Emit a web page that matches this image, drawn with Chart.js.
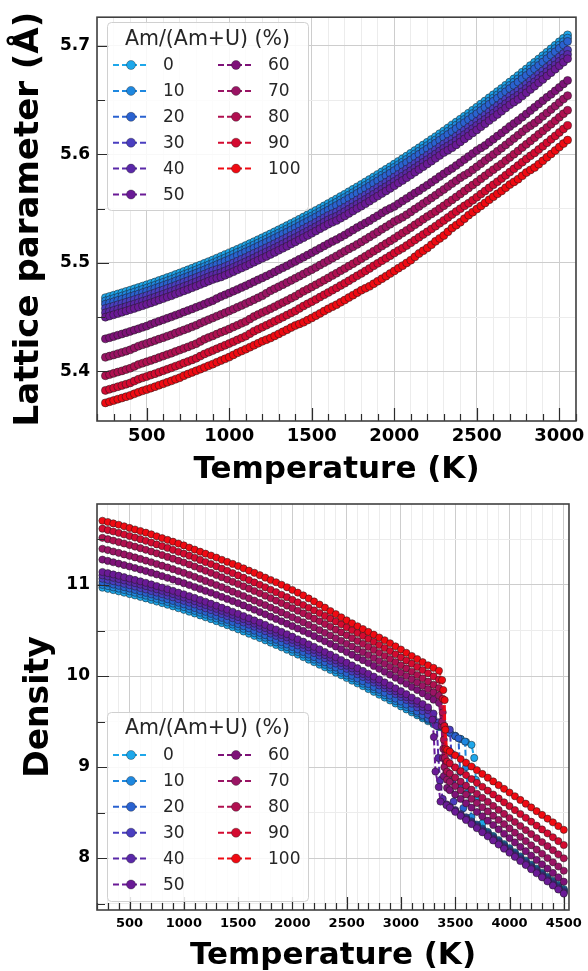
<!DOCTYPE html>
<html>
<head>
<meta charset="utf-8">
<script src="https://cdn.jsdelivr.net/npm/chart.js@4.4.1/dist/chart.umd.min.js"></script>
<style>
  html, body { margin: 0; padding: 0; background: #fff; }
  #wrap { position: relative; width: 588px; height: 971px; }
  canvas { position: absolute; left: 0; }
</style>
</head>
<body>
<div id="wrap">
  <canvas id="lattice" width="588" height="485" style="top:0"></canvas>
  <canvas id="density" width="588" height="486" style="top:485px"></canvas>
</div>
<script>
// Am/(Am+U) content of each series (%)
const compositions = [0, 10, 20, 30, 40, 50, 60, 70, 80, 90, 100];
const seriesColors = ['#1ea7ea', '#1e88e0', '#2a62d0', '#4a3ec0', '#5a28a8', '#6a1a96',
                      '#7e1278', '#9a1464', '#b01050', '#d40a30', '#f00a12'];
const legendTitle = 'Am/(Am+U) (%)';

// tick positions (every 100 K; labels on the 500 K ones)
const latticeXTicks = [200, 300, 400, 500, 600, 700, 800, 900, 1000, 1100, 1200, 1300, 1400, 1500, 1600, 1700, 1800,
                       1900, 2000, 2100, 2200, 2300, 2400, 2500, 2600, 2700, 2800, 2900, 3000, 3100];
const latticeYTicks = [5.4, 5.45, 5.5, 5.55, 5.6, 5.65, 5.7];
const densityXTicks = [200, 300, 400, 500, 600, 700, 800, 900, 1000, 1100, 1200, 1300, 1400, 1500, 1600, 1700, 1800,
                       1900, 2000, 2100, 2200, 2300, 2400, 2500, 2600, 2700, 2800, 2900, 3000, 3100, 3200, 3300, 3400,
                       3500, 3600, 3700, 3800, 3900, 4000, 4100, 4200, 4300, 4400, 4500];
const densityYTicks = [7.5, 8, 8.5, 9, 9.5, 10, 10.5, 11, 11.5];

// ---- lattice parameter (Angstrom) vs temperature (K), every 25 K ----
const latticeTemps = [250,275,300,325,350,375,400,425,450,475,500,525,550,575,600,625,650,675,700,725,750,775,800,825,850,875,900,925,950,975,
  1000,1025,1050,1075,1100,1125,1150,1175,1200,1225,1250,1275,1300,1325,1350,1375,1400,1425,1450,1475,1500,1525,1550,1575,1600,1625,1650,1675,1700,1725,
  1750,1775,1800,1825,1850,1875,1900,1925,1950,1975,2000,2025,2050,2075,2100,2125,2150,2175,2200,2225,2250,2275,2300,2325,2350,2375,2400,2425,2450,2475,
  2500,2525,2550,2575,2600,2625,2650,2675,2700,2725,2750,2775,2800,2825,2850,2875,2900,2925,2950,2975,3000,3025,3050];
const lattice0 = [5.4680,5.4691,5.4702,5.4714,5.4725,5.4737,5.4749,5.4761,5.4773,5.4786,5.4798,5.4811,5.4824,5.4838,5.4851,5.4865,5.4878,5.4893,5.4907,5.4922,
  5.4936,5.4951,5.4966,5.4981,5.4996,5.5012,5.5027,5.5044,5.5060,5.5076,5.5092,5.5109,5.5126,5.5143,5.5160,5.5178,5.5196,5.5214,5.5232,5.5250,
  5.5268,5.5287,5.5306,5.5325,5.5344,5.5364,5.5383,5.5403,5.5423,5.5443,5.5463,5.5484,5.5505,5.5526,5.5547,5.5569,5.5590,5.5612,5.5633,5.5656,
  5.5678,5.5701,5.5723,5.5746,5.5769,5.5793,5.5816,5.5840,5.5863,5.5887,5.5911,5.5936,5.5960,5.5985,5.6010,5.6036,5.6061,5.6087,5.6112,5.6138,
  5.6164,5.6191,5.6217,5.6244,5.6271,5.6298,5.6325,5.6353,5.6380,5.6408,5.6436,5.6465,5.6493,5.6522,5.6550,5.6579,5.6608,5.6638,5.6667,5.6697,
  5.6727,5.6758,5.6788,5.6819,5.6849,5.6880,5.6911,5.6943,5.6974,5.7006,5.7038,5.7070,5.7102];
const lattice10 = [5.4650,5.4661,5.4672,5.4684,5.4695,5.4707,5.4719,5.4731,5.4743,5.4756,5.4768,5.4781,5.4794,5.4808,5.4821,5.4835,5.4848,5.4863,5.4877,5.4892,
  5.4906,5.4921,5.4936,5.4951,5.4966,5.4982,5.4997,5.5014,5.5030,5.5046,5.5062,5.5079,5.5096,5.5113,5.5130,5.5148,5.5166,5.5184,5.5202,5.5220,
  5.5238,5.5257,5.5276,5.5295,5.5314,5.5334,5.5353,5.5373,5.5393,5.5413,5.5433,5.5454,5.5475,5.5496,5.5517,5.5539,5.5560,5.5582,5.5603,5.5626,
  5.5648,5.5671,5.5693,5.5716,5.5739,5.5763,5.5786,5.5810,5.5833,5.5857,5.5881,5.5906,5.5930,5.5955,5.5980,5.6006,5.6031,5.6057,5.6082,5.6108,
  5.6134,5.6161,5.6187,5.6214,5.6241,5.6268,5.6295,5.6323,5.6350,5.6378,5.6406,5.6435,5.6463,5.6492,5.6520,5.6549,5.6578,5.6608,5.6637,5.6667,
  5.6697,5.6728,5.6758,5.6789,5.6819,5.6850,5.6881,5.6913,5.6944,5.6976,5.7008,5.7040,5.7072];
const lattice20 = [5.4620,5.4631,5.4642,5.4654,5.4665,5.4677,5.4689,5.4701,5.4713,5.4726,5.4738,5.4751,5.4764,5.4778,5.4791,5.4805,5.4818,5.4833,5.4847,5.4862,
  5.4876,5.4891,5.4906,5.4921,5.4936,5.4952,5.4967,5.4984,5.5000,5.5016,5.5032,5.5049,5.5066,5.5083,5.5100,5.5118,5.5136,5.5154,5.5172,5.5190,
  5.5208,5.5227,5.5246,5.5265,5.5284,5.5304,5.5323,5.5343,5.5363,5.5383,5.5403,5.5424,5.5445,5.5466,5.5487,5.5509,5.5530,5.5552,5.5573,5.5596,
  5.5618,5.5641,5.5663,5.5686,5.5709,5.5733,5.5756,5.5780,5.5803,5.5827,5.5851,5.5876,5.5900,5.5925,5.5950,5.5976,5.6001,5.6027,5.6052,5.6078,
  5.6104,5.6131,5.6157,5.6184,5.6211,5.6238,5.6265,5.6293,5.6320,5.6348,5.6376,5.6405,5.6433,5.6462,5.6490,5.6519,5.6548,5.6578,5.6607,5.6637,
  5.6667,5.6698,5.6728,5.6759,5.6789,5.6820,5.6851,5.6883,5.6914,5.6946,5.6978,5.7010,5.7042];
const lattice30 = [5.4580,5.4591,5.4602,5.4614,5.4625,5.4637,5.4649,5.4661,5.4673,5.4686,5.4698,5.4711,5.4724,5.4738,5.4751,5.4765,5.4778,5.4793,5.4807,5.4822,
  5.4836,5.4851,5.4866,5.4881,5.4896,5.4912,5.4927,5.4939,5.4950,5.4966,5.4982,5.4999,5.5016,5.5033,5.5050,5.5068,5.5086,5.5104,5.5122,5.5140,
  5.5158,5.5177,5.5196,5.5215,5.5234,5.5254,5.5273,5.5293,5.5313,5.5333,5.5353,5.5374,5.5395,5.5416,5.5437,5.5454,5.5470,5.5492,5.5513,5.5536,
  5.5558,5.5581,5.5603,5.5626,5.5649,5.5673,5.5696,5.5720,5.5743,5.5767,5.5791,5.5816,5.5840,5.5865,5.5890,5.5916,5.5941,5.5967,5.5992,5.6018,
  5.6044,5.6071,5.6097,5.6119,5.6141,5.6168,5.6195,5.6223,5.6250,5.6278,5.6306,5.6335,5.6363,5.6392,5.6420,5.6449,5.6478,5.6508,5.6537,5.6562,
  5.6587,5.6618,5.6648,5.6679,5.6709,5.6740,5.6771,5.6803,5.6834,5.6866,5.6898,5.6930,5.6962];
const lattice40 = [5.4540,5.4551,5.4562,5.4574,5.4585,5.4597,5.4609,5.4621,5.4633,5.4646,5.4658,5.4671,5.4684,5.4698,5.4711,5.4725,5.4738,5.4753,5.4767,5.4782,
  5.4796,5.4811,5.4826,5.4841,5.4856,5.4872,5.4887,5.4899,5.4910,5.4926,5.4942,5.4959,5.4976,5.4993,5.5010,5.5028,5.5046,5.5064,5.5082,5.5100,
  5.5118,5.5137,5.5156,5.5175,5.5194,5.5214,5.5233,5.5253,5.5273,5.5293,5.5313,5.5334,5.5355,5.5376,5.5397,5.5414,5.5430,5.5452,5.5473,5.5496,
  5.5518,5.5541,5.5563,5.5586,5.5609,5.5633,5.5656,5.5680,5.5703,5.5727,5.5751,5.5776,5.5800,5.5825,5.5850,5.5876,5.5901,5.5927,5.5952,5.5978,
  5.6004,5.6031,5.6057,5.6079,5.6101,5.6128,5.6155,5.6183,5.6210,5.6238,5.6266,5.6295,5.6323,5.6352,5.6380,5.6409,5.6438,5.6468,5.6497,5.6522,
  5.6547,5.6578,5.6608,5.6639,5.6669,5.6700,5.6731,5.6763,5.6794,5.6826,5.6858,5.6890,5.6922];
const lattice50 = [5.4500,5.4511,5.4522,5.4534,5.4545,5.4557,5.4569,5.4581,5.4593,5.4606,5.4618,5.4631,5.4644,5.4658,5.4671,5.4685,5.4698,5.4713,5.4727,5.4742,
  5.4756,5.4771,5.4786,5.4801,5.4816,5.4832,5.4847,5.4859,5.4870,5.4886,5.4902,5.4919,5.4936,5.4953,5.4970,5.4988,5.5006,5.5024,5.5042,5.5060,
  5.5078,5.5097,5.5116,5.5135,5.5154,5.5174,5.5193,5.5213,5.5233,5.5253,5.5273,5.5294,5.5315,5.5336,5.5357,5.5374,5.5390,5.5412,5.5433,5.5456,
  5.5478,5.5501,5.5523,5.5546,5.5569,5.5593,5.5616,5.5640,5.5663,5.5687,5.5711,5.5736,5.5760,5.5785,5.5810,5.5836,5.5861,5.5887,5.5912,5.5938,
  5.5964,5.5991,5.6017,5.6039,5.6061,5.6088,5.6115,5.6143,5.6170,5.6198,5.6226,5.6255,5.6283,5.6312,5.6340,5.6369,5.6398,5.6428,5.6457,5.6482,
  5.6507,5.6538,5.6568,5.6599,5.6629,5.6660,5.6691,5.6723,5.6754,5.6786,5.6818,5.6850,5.6882];
const lattice60 = [5.4300,5.4311,5.4322,5.4334,5.4345,5.4357,5.4369,5.4381,5.4393,5.4406,5.4418,5.4434,5.4449,5.4463,5.4476,5.4490,5.4503,5.4518,5.4532,5.4547,
  5.4561,5.4576,5.4591,5.4606,5.4621,5.4637,5.4652,5.4672,5.4690,5.4706,5.4722,5.4739,5.4756,5.4773,5.4790,5.4808,5.4826,5.4844,5.4862,5.4880,
  5.4898,5.4917,5.4936,5.4955,5.4974,5.4994,5.5013,5.5033,5.5053,5.5073,5.5093,5.5114,5.5135,5.5156,5.5177,5.5197,5.5215,5.5237,5.5258,5.5281,
  5.5303,5.5326,5.5348,5.5369,5.5389,5.5413,5.5436,5.5460,5.5483,5.5502,5.5521,5.5546,5.5570,5.5595,5.5620,5.5644,5.5666,5.5692,5.5717,5.5743,
  5.5769,5.5796,5.5822,5.5847,5.5871,5.5898,5.5925,5.5953,5.5980,5.6008,5.6036,5.6060,5.6083,5.6112,5.6140,5.6169,5.6198,5.6228,5.6257,5.6285,
  5.6312,5.6343,5.6373,5.6404,5.6434,5.6465,5.6496,5.6526,5.6554,5.6586,5.6618,5.6650,5.6682];
const lattice70 = [5.4130,5.4141,5.4152,5.4164,5.4175,5.4187,5.4199,5.4216,5.4233,5.4246,5.4258,5.4271,5.4284,5.4298,5.4311,5.4325,5.4338,5.4353,5.4367,5.4382,
  5.4396,5.4411,5.4426,5.4444,5.4461,5.4477,5.4492,5.4509,5.4525,5.4541,5.4557,5.4574,5.4591,5.4608,5.4625,5.4643,5.4661,5.4679,5.4697,5.4720,
  5.4743,5.4762,5.4781,5.4800,5.4819,5.4839,5.4858,5.4878,5.4898,5.4918,5.4938,5.4959,5.4980,5.5001,5.5022,5.5044,5.5065,5.5087,5.5108,5.5129,
  5.5148,5.5171,5.5193,5.5216,5.5239,5.5263,5.5286,5.5310,5.5333,5.5357,5.5381,5.5401,5.5420,5.5445,5.5470,5.5496,5.5521,5.5547,5.5572,5.5598,
  5.5624,5.5651,5.5677,5.5704,5.5731,5.5758,5.5785,5.5808,5.5830,5.5858,5.5886,5.5915,5.5943,5.5972,5.6000,5.6029,5.6058,5.6088,5.6117,5.6147,
  5.6177,5.6208,5.6238,5.6264,5.6289,5.6320,5.6351,5.6383,5.6414,5.6446,5.6478,5.6510,5.6542];
const lattice80 = [5.3960,5.3971,5.3982,5.3994,5.4005,5.4017,5.4029,5.4046,5.4063,5.4076,5.4088,5.4101,5.4114,5.4128,5.4141,5.4155,5.4168,5.4183,5.4197,5.4212,
  5.4226,5.4241,5.4256,5.4276,5.4296,5.4312,5.4327,5.4344,5.4360,5.4376,5.4392,5.4409,5.4426,5.4443,5.4460,5.4483,5.4506,5.4524,5.4542,5.4560,
  5.4578,5.4597,5.4616,5.4635,5.4654,5.4674,5.4693,5.4716,5.4738,5.4758,5.4778,5.4799,5.4820,5.4841,5.4862,5.4884,5.4905,5.4927,5.4948,5.4971,
  5.4993,5.5016,5.5038,5.5061,5.5084,5.5108,5.5131,5.5155,5.5178,5.5202,5.5226,5.5251,5.5275,5.5300,5.5325,5.5351,5.5376,5.5402,5.5427,5.5451,
  5.5474,5.5501,5.5527,5.5554,5.5581,5.5608,5.5635,5.5663,5.5690,5.5718,5.5746,5.5775,5.5803,5.5832,5.5860,5.5887,5.5913,5.5943,5.5972,5.6002,
  5.6032,5.6063,5.6093,5.6124,5.6154,5.6185,5.6216,5.6248,5.6279,5.6311,5.6343,5.6375,5.6407];
const lattice90 = [5.3825,5.3836,5.3847,5.3859,5.3870,5.3882,5.3894,5.3911,5.3928,5.3941,5.3953,5.3966,5.3979,5.3993,5.4006,5.4020,5.4033,5.4048,5.4062,5.4077,
  5.4091,5.4106,5.4121,5.4141,5.4161,5.4177,5.4192,5.4209,5.4225,5.4241,5.4257,5.4274,5.4291,5.4308,5.4325,5.4348,5.4371,5.4389,5.4407,5.4425,
  5.4443,5.4462,5.4481,5.4500,5.4519,5.4539,5.4558,5.4581,5.4603,5.4623,5.4643,5.4664,5.4685,5.4706,5.4727,5.4749,5.4770,5.4792,5.4813,5.4836,
  5.4858,5.4881,5.4903,5.4926,5.4949,5.4973,5.4996,5.5020,5.5043,5.5067,5.5091,5.5114,5.5135,5.5160,5.5185,5.5211,5.5236,5.5262,5.5287,5.5313,
  5.5339,5.5366,5.5392,5.5419,5.5446,5.5473,5.5500,5.5526,5.5550,5.5578,5.5606,5.5635,5.5663,5.5692,5.5720,5.5749,5.5778,5.5808,5.5837,5.5867,
  5.5897,5.5928,5.5958,5.5987,5.6014,5.6045,5.6076,5.6108,5.6139,5.6171,5.6203,5.6235,5.6267];
const lattice100 = [5.3710,5.3721,5.3732,5.3744,5.3755,5.3767,5.3779,5.3794,5.3808,5.3821,5.3833,5.3846,5.3859,5.3873,5.3886,5.3900,5.3913,5.3928,5.3942,5.3960,
  5.3976,5.3991,5.4006,5.4021,5.4036,5.4052,5.4067,5.4084,5.4100,5.4116,5.4132,5.4152,5.4171,5.4188,5.4205,5.4223,5.4241,5.4259,5.4277,5.4293,
  5.4308,5.4327,5.4346,5.4365,5.4384,5.4404,5.4423,5.4438,5.4453,5.4473,5.4493,5.4514,5.4535,5.4556,5.4577,5.4597,5.4615,5.4637,5.4658,5.4681,
  5.4703,5.4726,5.4748,5.4766,5.4784,5.4808,5.4831,5.4855,5.4878,5.4902,5.4926,5.4951,5.4975,5.5000,5.5025,5.5056,5.5086,5.5112,5.5137,5.5168,
  5.5199,5.5226,5.5252,5.5287,5.5321,5.5348,5.5375,5.5408,5.5440,5.5468,5.5496,5.5525,5.5553,5.5582,5.5610,5.5637,5.5663,5.5693,5.5722,5.5747,
  5.5772,5.5803,5.5833,5.5857,5.5879,5.5910,5.5941,5.5973,5.6004,5.6036,5.6068,5.6100,5.6132];

// ---- density (g/cm3) vs temperature (K); null where the series is mid-melt ----
const densityTemps = [250, 300, 350, 400, 450, 500, 550, 600, 650, 700, 750, 800, 850, 900, 950, 1000, 1050, 1100, 1150,
                      1200, 1250, 1300, 1350, 1400, 1450, 1500, 1550, 1600, 1650, 1700, 1750, 1800, 1850, 1900, 1950, 2000,
                      2050, 2100, 2150, 2200, 2250, 2300, 2350, 2400, 2450, 2500, 2550, 2600, 2650, 2700, 2750, 2800, 2850,
                      2900, 2950, 3000, 3050, 3100, 3150, 3200, 3250, 3300, 3350, 3400, 3450, 3500, 3550, 3600, 3650, 3700,
                      3750, 3800, 3850, 3900, 3950, 4000, 4050, 4100, 4150, 4200, 4250, 4300, 4350, 4400, 4450, 4500];
const density0   = [10.971,10.958,10.944,10.930,10.915,10.900,10.885,10.869,10.853,10.836,10.818,10.801,10.783,10.765,10.745,10.727,10.707,10.687,10.666,10.645,10.625,10.603,10.581,10.559,10.536,10.513,10.489,10.465,10.441,10.417,10.392,10.366,10.341,10.315,10.289,10.262,10.235,10.208,10.180,10.152,10.124,10.095,10.066,10.037,10.008,9.978,9.948,9.918,9.888,9.857,9.826,9.794,9.763,9.731,9.698,9.666,9.633,
                    9.600,9.568,9.535,9.503,9.470,9.438,9.406,9.373,9.341,9.308,9.276,9.244,null,null,
                    8.288,8.243,8.198,8.153,8.108,8.063,8.018,7.973,7.928,7.883,7.838,7.793,7.748,7.704,7.660];
const density10  = [11.001,10.988,10.974,10.960,10.945,10.930,10.915,10.899,10.883,10.866,10.848,10.831,10.813,10.795,10.775,10.757,10.736,10.716,10.695,10.674,10.654,10.632,10.610,10.588,10.565,10.542,10.518,10.494,10.470,10.446,10.421,10.395,10.369,10.343,10.317,10.290,10.263,10.236,10.208,10.180,10.152,10.123,10.094,10.065,10.035,10.005,9.975,9.945,9.915,9.884,9.853,9.821,9.789,9.757,9.724,9.692,9.659,
                    9.624,9.589,9.554,9.519,9.484,9.449,9.414,9.379,9.344,9.309,null,null,
                    8.368,8.323,8.278,8.233,8.188,8.143,8.098,8.053,8.008,7.963,7.918,7.873,7.828,7.783,7.738,7.694,7.650];
const density20  = [11.032,11.019,11.005,10.991,10.976,10.961,10.946,10.930,10.914,10.897,10.879,10.862,10.843,10.825,10.805,10.787,10.767,10.747,10.726,10.705,10.683,10.661,10.639,10.617,10.594,10.571,10.547,10.523,10.498,10.474,10.449,10.423,10.398,10.372,10.346,10.319,10.291,10.264,10.236,10.208,10.180,10.151,10.122,10.093,10.062,10.032,10.002,9.972,9.942,9.911,9.880,9.848,9.816,9.784,9.751,9.719,9.686,
                    9.647,9.609,9.570,9.532,9.493,9.454,9.416,9.377,9.339,null,
                    8.448,8.403,8.358,8.313,8.268,8.223,8.178,8.133,8.088,8.043,7.998,7.953,7.908,7.863,7.818,7.773,7.728,7.684,7.640];
const density30  = [11.069,11.056,11.042,11.028,11.013,10.998,10.983,10.967,10.951,10.934,10.916,10.899,10.882,10.864,10.844,10.826,10.806,10.786,10.765,10.744,10.724,10.702,10.680,10.658,10.635,10.612,10.588,10.564,10.541,10.517,10.492,10.466,10.441,10.415,10.389,10.362,10.335,10.308,10.280,10.252,10.224,10.195,10.166,10.137,10.109,10.079,10.049,10.019,9.990,9.959,9.928,9.896,9.866,9.834,9.801,9.770,9.737,
                    9.696,9.655,9.615,9.574,9.533,9.492,9.452,9.411,
                    8.528,8.483,8.438,8.393,8.348,8.303,8.258,8.213,8.168,8.123,8.078,8.033,7.988,7.943,7.898,7.853,7.808,7.763,7.718,7.674,7.630];
const density40  = [11.106,11.093,11.079,11.065,11.050,11.035,11.020,11.004,10.988,10.971,10.953,10.936,10.918,10.900,10.880,10.862,10.842,10.822,10.801,10.780,10.760,10.738,10.716,10.694,10.671,10.648,10.624,10.600,10.576,10.552,10.527,10.501,10.476,10.450,10.424,10.397,10.370,10.343,10.315,10.287,10.259,10.230,10.201,10.172,10.143,10.113,10.083,10.053,10.023,9.992,9.961,9.929,9.898,9.866,9.833,9.801,9.768,
                    9.732,9.696,9.660,9.624,9.588,null,null,
                    8.563,8.518,8.473,8.428,8.383,8.338,8.293,8.248,8.203,8.158,8.113,8.068,8.023,7.978,7.933,7.888,7.843,7.798,7.753,7.708,7.664,7.620];
const density50  = [11.143,11.130,11.116,11.102,11.086,11.071,11.056,11.040,11.024,11.007,10.989,10.972,10.954,10.936,10.916,10.898,10.878,10.858,10.837,10.816,10.795,10.773,10.751,10.729,10.706,10.683,10.659,10.635,10.611,10.587,10.562,10.536,10.511,10.485,10.459,10.432,10.404,10.377,10.349,10.321,10.293,10.264,10.235,10.206,10.176,10.146,10.116,10.086,10.056,10.025,9.994,9.962,9.930,9.898,9.865,9.833,9.800,
                    9.764,9.728,9.692,9.656,null,null,null,
                    8.553,8.508,8.463,8.418,8.373,8.328,8.283,8.238,8.193,8.148,8.103,8.058,8.013,7.968,7.923,7.878,7.833,7.788,7.743,7.698,7.654,7.610];
const density60  = [11.279,11.265,11.250,11.235,11.219,11.203,11.187,11.170,11.153,11.135,11.116,11.098,11.079,11.060,11.039,11.020,10.999,10.978,10.957,10.935,10.915,10.892,10.869,10.847,10.823,10.800,10.776,10.752,10.728,10.703,10.678,10.652,10.627,10.601,10.575,10.548,10.522,10.495,10.467,10.439,10.411,10.382,10.353,10.324,10.295,10.264,10.234,10.204,10.174,10.143,10.111,10.079,10.047,10.015,9.981,9.949,9.915,
                    9.880,9.845,9.810,9.775,9.740,9.705,null,
                    8.746,8.698,8.650,8.602,8.554,8.506,8.458,8.410,8.363,8.315,8.267,8.219,8.171,8.123,8.075,8.027,7.979,7.931,7.884,7.836,7.788,7.740];
const density70  = [11.398,11.384,11.368,11.353,11.336,11.320,11.303,11.286,11.268,11.250,11.231,11.212,11.193,11.174,11.153,11.133,11.112,11.090,11.068,11.045,11.023,10.999,10.976,10.952,10.927,10.903,10.879,10.854,10.829,10.804,10.779,10.752,10.726,10.699,10.673,10.645,10.618,10.590,10.561,10.533,10.504,10.474,10.445,10.415,10.385,10.354,10.324,10.293,10.262,10.230,10.198,10.165,10.134,10.101,10.067,10.034,10.000,
                    9.964,9.928,9.892,9.856,9.820,9.784,null,
                    8.837,8.791,8.744,8.698,8.651,8.605,8.558,8.512,8.465,8.419,8.372,8.326,8.279,8.233,8.186,8.140,8.093,8.047,8.000,7.953,7.907,7.860];
const density80  = [11.518,11.503,11.488,11.472,11.456,11.439,11.422,11.405,11.387,11.368,11.348,11.329,11.309,11.289,11.267,11.247,11.225,11.203,11.179,11.156,11.134,11.109,11.085,11.060,11.035,11.011,10.985,10.960,10.934,10.909,10.882,10.855,10.828,10.801,10.774,10.745,10.717,10.689,10.660,10.630,10.601,10.571,10.540,10.509,10.479,10.447,10.416,10.384,10.353,10.320,10.287,10.253,10.220,10.187,10.152,10.118,10.083,
                    10.047,10.011,9.975,9.939,9.903,9.867,null,
                    8.928,8.884,8.839,8.795,8.751,8.706,8.662,8.618,8.573,8.529,8.485,8.440,8.396,8.352,8.307,8.263,8.219,8.174,8.130,8.086,8.041,7.997];
const density90  = [11.619,11.604,11.588,11.572,11.555,11.538,11.521,11.503,11.485,11.466,11.446,11.427,11.407,11.386,11.364,11.344,11.322,11.299,11.276,11.252,11.230,11.205,11.180,11.156,11.130,11.105,11.080,11.054,11.028,11.002,10.975,10.948,10.921,10.893,10.866,10.837,10.809,10.780,10.750,10.721,10.691,10.660,10.630,10.599,10.568,10.536,10.504,10.473,10.441,10.408,10.375,10.341,10.308,10.274,10.239,10.205,10.170,
                    10.135,10.100,10.065,10.030,9.995,9.960,null,
                    9.039,8.996,8.954,8.911,8.868,8.826,8.783,8.740,8.698,8.655,8.612,8.570,8.527,8.484,8.442,8.399,8.356,8.314,8.271,8.228,8.186,8.143];
const density100 = [11.706,11.692,11.677,11.662,11.645,11.627,11.610,11.593,11.575,11.557,11.535,11.515,11.496,11.476,11.455,11.435,11.411,11.389,11.366,11.344,11.324,11.301,11.277,11.254,11.232,11.209,11.183,11.158,11.134,11.108,11.081,11.055,11.030,11.003,10.975,10.945,10.916,10.886,10.852,10.819,10.785,10.751,10.714,10.680,10.645,10.612,10.579,10.547,10.516,10.485,10.454,10.423,10.393,10.360,10.326,10.291,10.255,
                    10.220,10.186,10.152,10.118,10.090,10.058,null,
                    9.170,9.129,9.088,9.047,9.006,8.965,8.924,8.883,8.842,8.801,8.760,8.720,8.679,8.638,8.597,8.556,8.515,8.474,8.433,8.392,8.351,8.310];

// [temperature, density] points read along each melting drop
const densityMelt0   = [[3675, 9.10], [3690, 8.86], [3700, 8.64], [3750, 8.38]];
const densityMelt10  = [[3590, 9.28], [3600, 9.00], [3615, 8.72], [3650, 8.45]];
const densityMelt20  = [[3530, 9.315], [3545, 8.95], [3555, 8.78], [3575, 8.55]];
const densityMelt30  = [[3465, 9.15], [3475, 8.85], [3485, 8.62]];
const densityMelt40  = [[3330, 9.45], [3345, 9.10], [3360, 8.85], [3385, 8.65], [3420, 8.59]];
const densityMelt50  = [[3290, 9.52], [3303, 9.33], [3318, 8.95], [3348, 8.78], [3364, 8.62], [3420, 8.58]];
const densityMelt60  = [[3375, 9.45], [3385, 9.10], [3395, 8.90], [3425, 8.77]];
const densityMelt70  = [[3380, 9.50], [3390, 9.20], [3400, 9.00], [3425, 8.86]];
const densityMelt80  = [[3385, 9.60], [3395, 9.30], [3405, 9.10], [3425, 8.95]];
const densityMelt90  = [[3385, 9.75], [3400, 9.45], [3410, 9.20], [3425, 9.06]];
const densityMelt100 = [[3379, 9.956], [3390, 9.846], [3403, 9.736], [3409, 9.41], [3425, 9.19]];

const latticeSeries = [lattice0, lattice10, lattice20, lattice30, lattice40, lattice50,
                       lattice60, lattice70, lattice80, lattice90, lattice100];
const densitySeries = [density0, density10, density20, density30, density40, density50,
                       density60, density70, density80, density90, density100];
const meltSeries = [densityMelt0, densityMelt10, densityMelt20, densityMelt30, densityMelt40, densityMelt50,
                    densityMelt60, densityMelt70, densityMelt80, densityMelt90, densityMelt100];

const FONT = '"DejaVu Sans", "Liberation Sans", sans-serif';

function seriesStyle(i, radius) {
  return {
    label: String(compositions[i]),
    borderColor: seriesColors[i],
    backgroundColor: seriesColors[i],
    borderWidth: 2,
    borderDash: [6, 3],
    pointRadius: radius,
    pointBackgroundColor: seriesColors[i],
    pointBorderColor: 'rgba(25,25,25,0.85)',
    pointBorderWidth: 0.6,
    order: 10 - i   // later compositions drawn on top
  };
}

function latticePoints(i) {
  return latticeTemps.map((t, k) => ({ x: t, y: latticeSeries[i][k] }));
}

function densityPoints(i) {
  const pts = [];
  densityTemps.forEach((t, k) => {
    const v = densitySeries[i][k];
    if (v !== null) pts.push({ x: t, y: v });
  });
  meltSeries[i].forEach(p => pts.push({ x: p[0], y: p[1] }));
  return pts.sort((a, b) => a.x - b.x);
}

function isMultiple(v, step) {
  const r = v / step;
  return Math.abs(r - Math.round(r)) < 1e-6;
}

// inward tick marks + dark frame round the plot area
const frameTicks = {
  id: 'frameTicks',
  afterDraw(chart, args, o) {
    const {ctx, chartArea: a, scales: {x, y}} = chart;
    ctx.save();
    ctx.strokeStyle = '#2b2b2b';
    ctx.lineWidth = 1.2;
    ctx.beginPath();
    x.ticks.forEach(t => {
      const px = Math.round(x.getPixelForValue(t.value)) + 0.5;
      const len = isMultiple(t.value, o.xMajor) ? o.xLong : o.xShort;
      ctx.moveTo(px, a.bottom); ctx.lineTo(px, a.bottom - len);
    });
    y.ticks.forEach(t => {
      const py = Math.round(y.getPixelForValue(t.value)) + 0.5;
      const len = isMultiple(t.value, o.yMajor) ? o.yLong : o.yShort;
      ctx.moveTo(a.left, py); ctx.lineTo(a.left + len, py);
    });
    ctx.stroke();
    ctx.strokeStyle = '#404040';
    ctx.lineWidth = 1.6;
    ctx.strokeRect(a.left, a.top, a.right - a.left, a.bottom - a.top);
    ctx.restore();
  }
};

// two-column legend box, drawn from the chart's datasets
const compLegend = {
  id: 'compLegend',
  afterDraw(chart, args, o) {
    const ctx = chart.ctx;
    ctx.save();
    ctx.beginPath();
    ctx.roundRect(o.x + 0.5, o.y + 0.5, o.w, o.h, 4);
    ctx.fillStyle = 'rgba(255,255,255,0.85)';
    ctx.fill();
    ctx.strokeStyle = '#d0d0d0';
    ctx.lineWidth = 1;
    ctx.stroke();
    ctx.fillStyle = '#262626';
    ctx.textBaseline = 'middle';
    ctx.textAlign = 'center';
    ctx.font = '20.5px ' + FONT;
    ctx.fillText(legendTitle, o.x + o.w / 2, o.titleY);
    ctx.textAlign = 'left';
    ctx.font = '17px ' + FONT;
    chart.data.datasets.forEach((ds, i) => {
      const col = i < 6 ? 0 : 1;
      const row = i < 6 ? i : i - 6;
      const lx = o.x + (col ? 111 : 6);
      const yy = o.rowY + row * o.rowGap;
      ctx.strokeStyle = ds.borderColor;
      ctx.lineWidth = 2;
      ctx.setLineDash([6, 3]);
      ctx.beginPath();
      ctx.moveTo(lx, yy); ctx.lineTo(lx + 36, yy);
      ctx.stroke();
      ctx.setLineDash([]);
      ctx.beginPath();
      ctx.arc(lx + 18, yy, 4.5, 0, Math.PI * 2);
      ctx.fillStyle = ds.backgroundColor;
      ctx.fill();
      ctx.strokeStyle = 'rgba(25,25,25,0.6)';
      ctx.lineWidth = 0.6;
      ctx.stroke();
      ctx.fillStyle = '#262626';
      ctx.fillText(ds.label, lx + 50, yy + 1);
    });
    ctx.restore();
  }
};

function gridColor(step) {
  return c => (c.tick && isMultiple(c.tick.value, step)) ? '#cdcdcd' : '#ececec';
}

function axisOptions(cfg) {
  return {
    x: {
      type: 'linear', min: cfg.xMin, max: cfg.xMax,
      afterBuildTicks: s => { s.ticks = cfg.xTicks.map(v => ({ value: v })); },
      afterFit: s => { s.height = cfg.xHeight; },
      border: { display: false },
      grid: { drawTicks: false, color: gridColor(500), lineWidth: 1 },
      ticks: {
        autoSkip: false, maxRotation: 0, padding: cfg.xPad,
        color: '#000', font: { family: FONT, weight: 'bold', size: cfg.xTickSize },
        callback: v => (isMultiple(v, 500) ? String(Math.round(v)) : '')
      },
      title: { display: true, text: 'Temperature (K)', color: '#000',
               font: { family: FONT, weight: 'bold', size: 31, lineHeight: 1 }, padding: { top: 0, bottom: cfg.xTitlePad } }
    },
    y: {
      type: 'linear', min: cfg.yMin, max: cfg.yMax,
      afterBuildTicks: s => { s.ticks = cfg.yTicks.map(v => ({ value: v })); },
      afterFit: s => { s.width = 97; },
      border: { display: false },
      grid: { drawTicks: false, color: gridColor(cfg.yMajor), lineWidth: 1 },
      ticks: {
        autoSkip: false, padding: 7,
        color: '#000', font: { family: FONT, weight: 'bold', size: 17 },
        callback: v => (isMultiple(v, cfg.yMajor) ? v.toFixed(cfg.yDigits) : '')
      },
      title: { display: true, text: cfg.yTitle, color: '#000',
               font: { family: FONT, weight: 'bold', size: cfg.yTitleSize, lineHeight: 1 }, padding: { top: cfg.yTitlePad, bottom: 0 } }
    }
  };
}

new Chart(document.getElementById('lattice'), {
  type: 'line',
  data: { datasets: compositions.map((c, i) => Object.assign(seriesStyle(i, 4), { data: latticePoints(i) })) },
  options: {
    responsive: false, animation: false, devicePixelRatio: 1,
    layout: { padding: { left: 0, right: 12, top: 14, bottom: 0 } },
    plugins: {
      legend: { display: false }, tooltip: { enabled: false },
      frameTicks: { xMajor: 500, xLong: 13, xShort: 7, yMajor: 0.1, yLong: 12, yShort: 8 },
      compLegend: { x: 107, y: 22, w: 201, h: 188, titleY: 40, rowY: 65, rowGap: 25.9 }
    },
    scales: axisOptions({ xMin: 199, xMax: 3101, xTicks: latticeXTicks, xHeight: 64, xPad: 5, xTickSize: 18, xTitlePad: 0,
                          yMin: 5.3543, yMax: 5.7265, yTicks: latticeYTicks, yMajor: 0.1, yDigits: 1,
                          yTitle: 'Lattice parameter (Å)', yTitleSize: 34, yTitlePad: 12 })
  },
  plugins: [frameTicks, compLegend]
});

new Chart(document.getElementById('density'), {
  type: 'line',
  data: { datasets: compositions.map((c, i) => Object.assign(seriesStyle(i, 3.6), { data: densityPoints(i) })) },
  options: {
    responsive: false, animation: false, devicePixelRatio: 1,
    layout: { padding: { left: 0, right: 12, top: 19, bottom: 0 } },
    plugins: {
      legend: { display: false }, tooltip: { enabled: false },
      frameTicks: { xMajor: 500, xLong: 13, xShort: 7, yMajor: 1, yLong: 12, yShort: 8 },
      compLegend: { x: 107, y: 227, w: 201, h: 189, titleY: 244, rowY: 270, rowGap: 25.9 }
    },
    scales: axisOptions({ xMin: 200, xMax: 4548, xTicks: densityXTicks, xHeight: 61, xPad: 6, xTickSize: 13, xTitlePad: 0,
                          yMin: 7.429, yMax: 11.89, yTicks: densityYTicks, yMajor: 1, yDigits: 0,
                          yTitle: 'Density', yTitleSize: 33, yTitlePad: 23 })
  },
  plugins: [frameTicks, compLegend]
});
</script>
</body>
</html>
